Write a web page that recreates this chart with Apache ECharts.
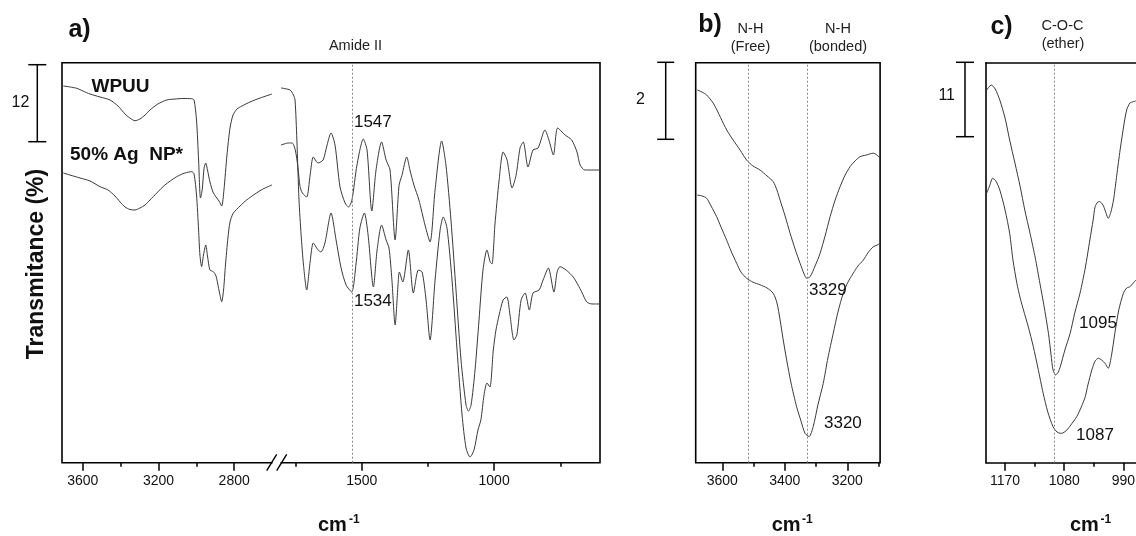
<!DOCTYPE html>
<html><head><meta charset="utf-8">
<script src="https://cdn.jsdelivr.net/npm/echarts@6/dist/echarts.min.js"></script>
<style>html,body{margin:0;padding:0;background:#fff}#c{width:1136px;height:536px}</style>
</head><body><div id="c"></div><script>
// ---------- DATA (wavenumber cm-1, relative transmittance %) ----------
// Panel a, high-wavenumber segment
const aLeftWPUU = [[3703,58.69],[3668,58.54],[3632,58.33],[3599,57.91],[3562,57.44],[3509,56.98],[3456,56.51],[3414,55.57],[3377,54.33],[3351,53.70],[3324,53.28],[3298,53.55],[3271,54.17],[3245,54.95],[3203,55.89],[3157,56.51],[3113,56.66],[3070,56.74],[3024,56.71],[3012,56.51],[2999,53.39],[2988,47.16],[2978,41.24],[2969,42.49],[2959,45.91],[2950,46.69],[2941,45.60],[2928,43.73],[2912,42.17],[2896,41.40],[2880,40.77],[2866,39.99],[2854,42.49],[2838,47.94],[2822,52.15],[2806,54.17],[2785,55.11],[2759,55.57],[2716,56.20],[2663,56.82],[2600,57.44]];
const aLeftAg = [[3703,45.14],[3668,44.82],[3615,44.36],[3562,43.89],[3509,43.00],[3467,42.49],[3430,41.55],[3403,40.62],[3377,39.84],[3351,39.45],[3324,39.37],[3298,39.68],[3271,40.15],[3245,40.93],[3209,42.02],[3166,43.27],[3104,44.56],[3060,45.14],[3024,45.34],[3012,44.98],[2999,41.71],[2988,36.25],[2981,32.36],[2972,30.54],[2962,32.36],[2950,33.92],[2941,32.20],[2928,30.02],[2910,29.76],[2896,29.09],[2884,27.42],[2875,26.13],[2866,25.08],[2856,26.91],[2846,30.80],[2833,35.01],[2822,37.50],[2805,38.86],[2769,39.99],[2734,40.93],[2690,41.86],[2648,42.64],[2600,43.27]];
// Panel a, fingerprint segment (trace that starts lower and stays on top)
const aRightUpper = [[1805,49.5],[1776,49.81],[1763,49.81],[1751,48.72],[1741,46.0],[1733,43.0],[1724,42.0],[1708,41.40],[1695,44.82],[1683,47.63],[1665,46.69],[1646,47.16],[1631,49.5],[1616,51.37],[1601,49.5],[1582,42.95],[1563,40.46],[1550,39.84],[1537,40.93],[1518,46.38],[1494,50.43],[1480,48.72],[1462,39.21],[1446,45.60],[1425,49.97],[1408,47.16],[1393,45.60],[1374,34.70],[1359,43.24],[1348,44.79],[1330,47.63],[1318,45.60],[1303,43.27],[1284,40.93],[1261,37.03],[1242,34.39],[1223,42.49],[1198,50.12],[1182,46.38],[1163,37.81],[1144,26.91],[1125,16.0],[1106,8.99],[1097,8.05],[1087,8.99],[1072,14.44],[1057,22.23],[1042,30.02],[1027,33.14],[1015,31.27],[1008,30.96],[997,37.03],[981,44.05],[966,48.41],[951,47.16],[932,42.80],[917,44.79],[902,49.03],[890,49.97],[872,46.07],[853,48.72],[834,49.03],[808,51.83],[793,50.28],[776,47.94],[760,52.15],[732,51.06],[707,50.28],[687,48.41],[675,46.38],[657,45.60],[600,45.60]];
// Panel a, fingerprint segment (trace that starts high and plunges below)
const aRightLower = [[1805,58.38],[1771,58.07],[1758,57.29],[1752,56.51],[1745,50.28],[1737,40.93],[1729,35.48],[1720,30.80],[1708,26.91],[1695,31.27],[1683,34.23],[1665,33.14],[1654,32.83],[1639,34.23],[1616,38.90],[1597,34.70],[1578,30.33],[1559,27.69],[1538,26.60],[1522,30.80],[1507,36.57],[1490,38.90],[1476,35.48],[1456,27.37],[1442,33.14],[1425,37.03],[1408,34.70],[1397,33.45],[1386,28.46],[1374,21.45],[1363,27.69],[1358,29.71],[1345,28.15],[1324,33.14],[1305,26.44],[1286,30.02],[1272,29.71],[1257,25.35],[1242,19.12],[1223,28.46],[1204,36.25],[1192,38.28],[1178,36.57],[1159,28.46],[1140,17.56],[1121,7.43],[1106,2.29],[1091,0.89],[1076,1.98],[1061,5.09],[1050,6.65],[1038,10.55],[1027,12.42],[1016,11.79],[1003,17.56],[993,20.67],[981,23.01],[966,25.35],[952,25.82],[940,23.01],[925,19.12],[914,19.90],[898,25.35],[883,26.44],[867,23.79],[853,26.44],[830,26.91],[815,28.46],[795,30.33],[774,26.60],[762,29.71],[751,30.54],[728,30.02],[701,28.93],[683,27.69],[669,26.60],[650,25.04],[630,24.73],[600,24.73]];
// Panel b, N-H region
const bWPUU = [[3680,9.68],[3665,9.63],[3650,9.55],[3629,9.34],[3614,9.11],[3597,8.82],[3582,8.59],[3565,8.38],[3543,8.12],[3522,7.86],[3502,7.71],[3479,7.60],[3457,7.45],[3437,7.30],[3425,7.08],[3415,6.82],[3399,6.41],[3383,5.96],[3367,5.55],[3351,5.18],[3338,4.90],[3330,4.79],[3319,4.83],[3303,5.11],[3287,5.44],[3271,5.89],[3255,6.39],[3239,6.82],[3223,7.17],[3207,7.47],[3191,7.69],[3175,7.84],[3159,7.95],[3140,7.99],[3117,8.04],[3105,7.99],[3095,7.91]];
const bAg = [[3680,6.95],[3665,6.93],[3650,6.87],[3636,6.67],[3618,6.39],[3604,6.12],[3586,5.78],[3572,5.50],[3554,5.18],[3540,4.95],[3522,4.79],[3502,4.69],[3479,4.62],[3457,4.54],[3437,4.40],[3425,4.15],[3415,3.71],[3406,3.24],[3394,2.67],[3380,2.07],[3362,1.45],[3348,1.08],[3335,0.76],[3322,0.68],[3309,0.94],[3294,1.50],[3277,2.06],[3262,2.72],[3245,3.36],[3230,3.91],[3213,4.40],[3198,4.69],[3181,4.92],[3166,5.11],[3149,5.26],[3134,5.45],[3117,5.61],[3105,5.65],[3095,5.70]];
// Panel c, C-O-C region
const cWPUU = [[1198,55.10],[1191,55.84],[1185,55.25],[1178,53.62],[1170,50.96],[1163,47.71],[1155,44.31],[1147,40.81],[1140,37.36],[1132,33.92],[1124,30.26],[1117,26.52],[1111,23.32],[1104,19.13],[1100,15.92],[1097,13.71],[1093,12.97],[1089,13.41],[1086,14.19],[1079,16.66],[1071,19.13],[1064,22.13],[1056,25.05],[1048,28.79],[1041,32.93],[1036,35.88],[1033,37.85],[1029,38.54],[1026,38.59],[1021,38.10],[1018,37.36],[1013,36.13],[1009,37.07],[1005,38.84],[1000,42.54],[995,46.23],[990,49.48],[985,52.15],[980,53.18],[975,53.37],[971,53.48]];
const cAg = [[1198,39.83],[1193,41.06],[1189,42.05],[1184,41.65],[1178,40.32],[1170,37.36],[1163,33.92],[1158,29.97],[1152,26.52],[1147,24.35],[1142,22.58],[1135,20.21],[1127,17.15],[1120,14.00],[1112,10.26],[1105,7.50],[1097,5.32],[1091,4.54],[1086,4.35],[1082,4.39],[1076,4.83],[1070,5.57],[1061,6.80],[1054,8.24],[1048,9.76],[1044,11.49],[1038,13.71],[1033,15.04],[1028,15.44],[1023,15.18],[1018,14.70],[1013,13.96],[1008,15.92],[1003,19.13],[997,22.58],[990,25.05],[985,25.83],[980,26.02],[975,26.57],[971,27.01]];
// tick values
const aLeftTicks = [3600, 3200, 2800], aLeftMinor = [3400, 3000];
const aRightTicks = [1500, 1000], aRightMinor = [1750, 1250, 750];
const bTicks = [3600, 3400, 3200], bMinor = [3500, 3300, 3100];
const cTicks = [1170, 1080, 990], cMinor = [1125, 1035];
// marker lines and peak labels
const aLines = [1537], bLines = [3517, 3329], cLines = [1095];
const aPeakLabels = [['1547', 1537, 52.97], ['1534', 1537, 25.08]];
const bPeakLabels = [['3329', 3329, 4.49], ['3320', 3281, 1.02]];
const cPeakLabels = [['1095', 1060.5, 20.65], ['1087', 1065, 4.10]];

// ---------- CHART ----------
const FONT = '"Liberation Sans", Arial, sans-serif';
const chart = echarts.init(document.getElementById('c'), null, {renderer: 'canvas'});
const TOP = 62.7, H = 400;
const frameLine = {show: true, onZero: false, lineStyle: {color: '#000', width: 1.6}};
const gBase = {top: TOP, height: H, containLabel: false, outerBoundsMode: 'none'};
const grids = [
  Object.assign({left: 62, width: 538, show: true, borderColor: '#000', borderWidth: 1.6, backgroundColor: 'transparent'}, gBase),
  Object.assign({left: 62, width: 210}, gBase),
  Object.assign({left: 281, width: 319}, gBase),
  Object.assign({left: 695.7, width: 184.4, show: true, borderColor: '#000', borderWidth: 1.6, backgroundColor: 'transparent'}, gBase),
  Object.assign({left: 986, width: 150}, gBase)
];
function majorAxis(g, min, max, ticks, line) {
  return {gridIndex: g, type: 'value', position: 'bottom', inverse: true, min: min, max: max,
    axisLine: line ? frameLine : {show: false}, splitLine: {show: false},
    axisTick: {show: true, length: 8, customValues: ticks, lineStyle: {color: '#000', width: 1.5}},
    axisLabel: {show: true, customValues: ticks, margin: 11, fontSize: 14, fontFamily: FONT, color: '#111',
      formatter: v => String(v)}};
}
function minorAxis(g, min, max, ticks) {
  return {gridIndex: g, type: 'value', position: 'bottom', inverse: true, min: min, max: max,
    axisLine: {show: false}, splitLine: {show: false},
    axisTick: {show: true, length: 4, customValues: ticks, lineStyle: {color: '#000', width: 1.5}},
    axisLabel: {show: false}};
}
const xAxis = [
  {gridIndex: 0, type: 'value', show: false, min: 0, max: 1},
  majorAxis(1, 2600, 3710, aLeftTicks), minorAxis(1, 2600, 3710, aLeftMinor),
  majorAxis(2, 600, 1805, aRightTicks), minorAxis(2, 600, 1805, aRightMinor),
  majorAxis(3, 3095, 3685, bTicks), minorAxis(3, 3095, 3685, bMinor),
  majorAxis(4, 970.8, 1199, cTicks, true), minorAxis(4, 970.8, 1199, cMinor),
  {gridIndex: 4, type: 'value', position: 'top', inverse: true, min: 970.8, max: 1199,
    axisLine: frameLine, axisTick: {show: false}, axisLabel: {show: false}, splitLine: {show: false}}
];
const yAxis = [
  {gridIndex: 0, type: 'value', show: false, min: 0, max: 1},
  {gridIndex: 1, type: 'value', show: false, min: 0, max: 62.32},
  {gridIndex: 2, type: 'value', show: false, min: 0, max: 62.32},
  {gridIndex: 3, type: 'value', show: false, min: 0, max: 10.39},
  {gridIndex: 4, type: 'value', show: true, position: 'left', min: 0, max: 59.14,
    axisLine: frameLine, axisTick: {show: false}, axisLabel: {show: false}, splitLine: {show: false}}
];
const lineStyle = {color: '#3a3a3a', width: 1};
function vLines(vals) {
  return {silent: true, symbol: ['none', 'none'], label: {show: false},
    lineStyle: {type: [2, 2], color: '#8a8a8a', width: 1},
    data: vals.map(v => ({xAxis: v}))};
}
function peakPts(list) {
  return {silent: true, data: list.map(p => ({coord: [p[1], p[2]], symbol: 'circle', symbolSize: 0,
    label: {show: true, formatter: p[0], position: 'right', distance: 2, fontSize: 17, fontFamily: FONT, color: '#111'}}))};
}
function spec(data, xi, yi, extra) {
  return Object.assign({type: 'line', data: data, xAxisIndex: xi, yAxisIndex: yi, showSymbol: false,
    smooth: 0.25, lineStyle: lineStyle, animation: false, z: 3}, extra || {});
}
const series = [
  spec(aLeftWPUU, 1, 1), spec(aLeftAg, 1, 1),
  spec(aRightUpper, 3, 2, {markLine: vLines(aLines)}), spec(aRightLower, 3, 2, {markPoint: peakPts(aPeakLabels)}),
  spec(bWPUU, 5, 3, {markLine: vLines(bLines)}), spec(bAg, 5, 3, {markPoint: peakPts(bPeakLabels)}),
  spec(cWPUU, 7, 4, {markLine: vLines(cLines)}), spec(cAg, 7, 4, {markPoint: peakPts(cPeakLabels)})
];
function txt(x, y, s, size, opts) {
  return Object.assign({type: 'text', x: x, y: y, z: 110,
    style: Object.assign({text: s, font: (opts && opts.bold ? 'bold ' : '') + size + 'px ' + FONT,
      fill: (opts && opts.fill) || '#111', align: (opts && opts.align) || 'left', verticalAlign: 'middle'})},
    opts && opts.rotation ? {rotation: opts.rotation} : {});
}
function ln(x1, y1, x2, y2, w) {
  return {type: 'line', z: 110, shape: {x1: x1, y1: y1, x2: x2, y2: y2}, style: {stroke: '#000', lineWidth: w || 1.5}};
}
function scaleBar(x, y1, y2, half, label, lx, ly) {
  return [ln(x, y1, x, y2), ln(x - half, y1, x + half, y1), ln(x - half, y2, x + half, y2),
    txt(lx, ly, label, 16, {align: 'center'})];
}
const graphic = [].concat(
  // axis break
  [{type: 'rect', z: 105, shape: {x: 272.5, y: 458, width: 8, height: 9}, style: {fill: '#fff'}},
   ln(266.7, 470.7, 276.7, 454.3, 1.4), ln(276.7, 470.7, 286.7, 454.3, 1.4)],
  scaleBar(37.3, 64.7, 141.7, 9, '12', 20.5, 103),
  scaleBar(665.7, 62.3, 139.3, 8.5, '2', 640.5, 100),
  scaleBar(965, 62.3, 136.7, 9, '11', 946.7, 96),
  [txt(79.5, 30.5, 'a)', 25, {bold: true, align: 'center'}),
   txt(710, 25.5, 'b)', 25, {bold: true, align: 'center'}),
   txt(1001.5, 27.5, 'c)', 25, {bold: true, align: 'center'}),
   txt(355.5, 46, 'Amide II', 14.5, {align: 'center', fill: '#222'}),
   txt(750.5, 29, 'N-H', 14.5, {align: 'center', fill: '#222'}),
   txt(750.5, 47, '(Free)', 14.5, {align: 'center', fill: '#222'}),
   txt(838, 29, 'N-H', 14.5, {align: 'center', fill: '#222'}),
   txt(838, 47, '(bonded)', 14.5, {align: 'center', fill: '#222'}),
   txt(1062.5, 26, 'C-O-C', 14.5, {align: 'center', fill: '#222'}),
   txt(1063, 44, '(ether)', 14.5, {align: 'center', fill: '#222'}),
   txt(91.5, 87, 'WPUU', 19, {bold: true}),
   txt(70, 155, '50% Ag  NP*', 19, {bold: true}),
   txt(37, 264, 'Transmitance (%)', 23, {bold: true, align: 'center', rotation: Math.PI / 2}),
   txt(318, 525, 'cm', 20, {bold: true}), txt(349, 520, '-1', 12, {bold: true}),
   txt(771.7, 525, 'cm', 20, {bold: true}), txt(802, 520, '-1', 12, {bold: true}),
   txt(1070, 525, 'cm', 20, {bold: true}), txt(1100.5, 520, '-1', 12, {bold: true})]
);
chart.setOption({animation: false, backgroundColor: '#fff', grid: grids, xAxis: xAxis, yAxis: yAxis, series: series, graphic: graphic});
</script></body></html>
